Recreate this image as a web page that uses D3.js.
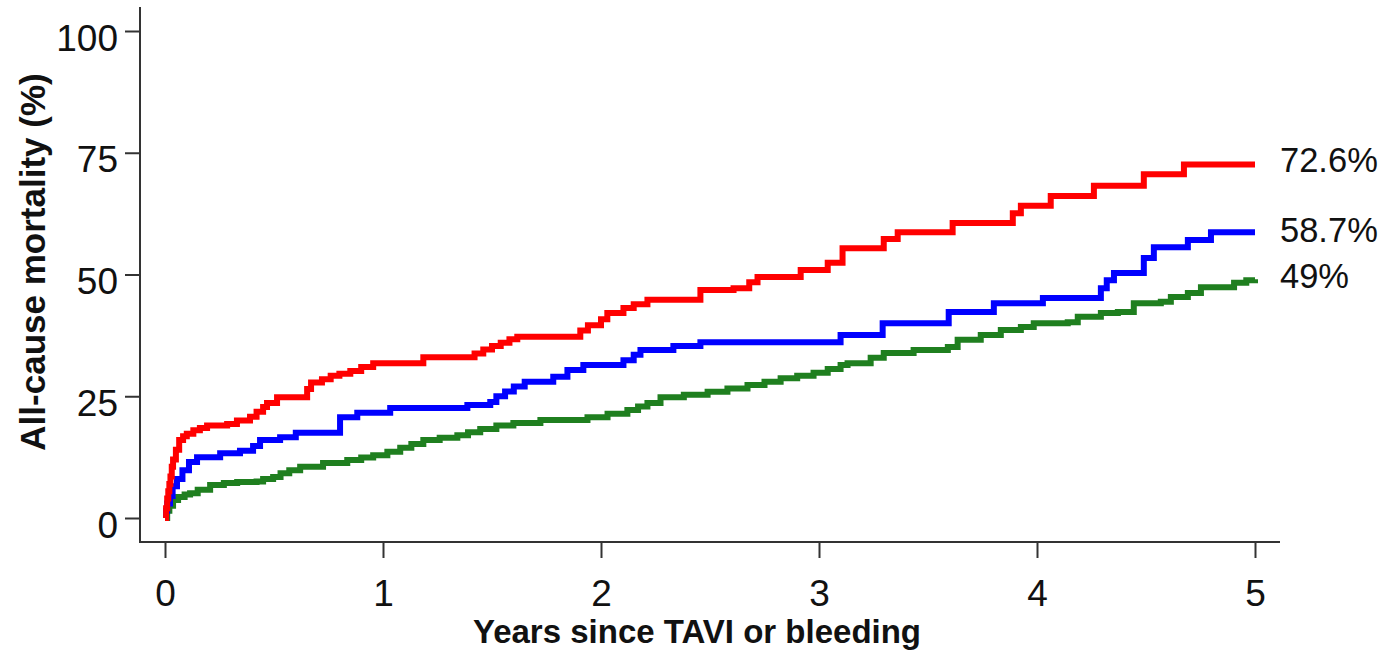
<!DOCTYPE html>
<html>
<head>
<meta charset="utf-8">
<script src="https://cdn.jsdelivr.net/npm/d3@7/dist/d3.min.js"></script>
<style>
  html, body { margin: 0; padding: 0; background: #fff; }
  svg { display: block; font-family: "Liberation Sans", Arial, sans-serif; }
</style>
</head>
<body>
<svg id="chart" width="1394" height="659"></svg>
<script>
// ---- Data (Kaplan-Meier step points: [years, mortality %]) ----
const xTicks = [0, 1, 2, 3, 4, 5];
const yTicks = [0, 25, 50, 75, 100];
const xTitle = "Years since TAVI or bleeding";
const yTitle = "All-cause mortality (%)";

const redSeries = [
  [0,0],[0.005,2],[0.01,4],[0.015,5.5],[0.02,7],[0.025,8.5],[0.031,10.5],[0.037,12],[0.05,14],
  [0.065,16],[0.083,16.8],[0.1,17.3],[0.13,18],[0.16,18.5],[0.193,19],[0.285,19.3],[0.33,20],
  [0.39,20.8],[0.42,21.8],[0.45,22.8],[0.468,23.6],[0.514,24.8],[0.652,26.5],[0.67,27.8],
  [0.72,28.5],[0.76,29.2],[0.8,29.6],[0.85,30.2],[0.9,31],[0.955,31.8],[1.185,33.0],[1.42,33.8],
  [1.46,34.6],[1.5,35.3],[1.54,36],[1.58,36.7],[1.616,37.2],[1.905,38.5],[1.94,39.6],[2.0,40.8],
  [2.029,42.1],[2.103,43.1],[2.15,43.9],[2.213,44.8],[2.456,46.8],[2.608,47.2],[2.68,48.4],
  [2.718,49.5],[2.916,50.9],[3.04,52.4],[3.108,55.4],[3.297,57.3],[3.361,58.7],[3.613,60.6],
  [3.889,62.6],[3.926,64.1],[4.063,66.1],[4.261,68.2],[4.49,70.6],[4.674,72.6],[5.0,72.6]
];
const blueSeries = [
  [0,0],[0.005,1.5],[0.01,3],[0.023,4.5],[0.035,6.5],[0.055,8],[0.08,9.8],[0.11,11.5],[0.147,12.5],
  [0.253,13.3],[0.344,13.8],[0.404,14.8],[0.436,16.0],[0.528,16.6],[0.6,17.5],[0.803,20.7],
  [0.882,21.6],[1.033,22.6],[1.387,23.2],[1.492,23.8],[1.52,25.0],[1.56,26.0],[1.6,27.0],
  [1.65,28.0],[1.781,29.0],[1.846,30.4],[1.919,31.4],[2.103,32.4],[2.15,33.5],[2.181,34.5],
  [2.332,35.3],[2.456,36.1],[3.099,37.6],[3.292,40.0],[3.595,42.3],[3.802,44.1],[4.027,45.2],
  [4.293,47.2],[4.32,48.8],[4.353,50.3],[4.49,53.4],[4.536,55.6],[4.692,57.1],[4.798,58.7],[5.0,58.7]
];
const greenSeries = [
  [0,0],[0.01,1.5],[0.02,2.5],[0.037,3.7],[0.06,4.3],[0.09,4.8],[0.115,5.1],[0.15,5.8],[0.207,6.8],
  [0.27,7.2],[0.331,7.4],[0.42,7.5],[0.45,8.0],[0.496,8.4],[0.53,9.2],[0.57,9.8],[0.62,10.5],
  [0.725,11.3],[0.836,11.9],[0.9,12.4],[0.955,12.9],[1.02,13.6],[1.079,14.4],[1.13,15.2],
  [1.185,16.0],[1.26,16.5],[1.341,17.0],[1.39,17.6],[1.446,18.3],[1.52,19.0],[1.598,19.5],
  [1.722,20.1],[1.938,20.7],[2.03,21.4],[2.121,22.2],[2.17,22.9],[2.213,23.6],[2.273,24.8],
  [2.38,25.3],[2.489,25.9],[2.58,26.6],[2.672,27.3],[2.75,28.0],[2.824,28.7],[2.9,29.2],
  [2.975,29.8],[3.04,30.6],[3.099,31.4],[3.131,31.8],[3.237,32.9],[3.297,33.9],[3.434,34.5],
  [3.591,35.1],[3.636,36.6],[3.742,37.6],[3.834,38.6],[3.926,39.2],[3.985,40.0],[4.141,40.2],
  [4.187,41.3],[4.293,42.1],[4.371,42.3],[4.444,44.1],[4.568,44.4],[4.614,45.4],[4.692,46.2],
  [4.752,47.4],[4.904,48.3],[4.96,48.8],[5.0,49.0]
];
const seriesNames = ["red", "blue", "green"];
const endLabels = ["72.6%", "58.7%", "49%"];

// ---- Drawing ----
const series = [
  { name: seriesNames[0], data: redSeries,   color: "#ff0000", label: endLabels[0], labelY: 172 },
  { name: seriesNames[1], data: blueSeries,  color: "#0000ff", label: endLabels[1], labelY: 242 },
  { name: seriesNames[2], data: greenSeries, color: "#1f7f1f", label: endLabels[2], labelY: 288 }
];

const svg = d3.select("#chart");
const x = d3.scaleLinear().domain([0, 5]).range([165, 1255]);
const y = d3.scaleLinear().domain([0, 100]).range([518, 31]);
const axisColor = "#333";
const textColor = "#111";

// Y axis
const yAxisX = 140;
svg.append("line").attr("x1", yAxisX).attr("x2", yAxisX).attr("y1", 7).attr("y2", 543)
  .attr("stroke", axisColor).attr("stroke-width", 2);
const yAxis = d3.axisLeft(y).tickValues(yTicks).tickSize(15).tickPadding(7).tickFormat(d3.format("d"));
const gy = svg.append("g").attr("transform", `translate(${yAxisX},0)`).call(yAxis);
gy.select(".domain").remove();
gy.selectAll(".tick line").attr("stroke", axisColor).attr("stroke-width", 2);
gy.selectAll(".tick text").attr("fill", textColor).attr("font-size", 37)
  .attr("font-family", "Liberation Sans, Arial, sans-serif")
  .attr("dy", null).attr("y", 19).attr("x", -22);

// X axis
const xAxisY = 542;
svg.append("line").attr("x1", yAxisX - 1).attr("x2", 1280).attr("y1", xAxisY).attr("y2", xAxisY)
  .attr("stroke", axisColor).attr("stroke-width", 2);
const xAxis = d3.axisBottom(x).tickValues(xTicks).tickSize(16).tickFormat(d3.format("d"));
const gx = svg.append("g").attr("transform", `translate(0,${xAxisY})`).call(xAxis);
gx.select(".domain").remove();
gx.selectAll(".tick line").attr("stroke", axisColor).attr("stroke-width", 2);
gx.selectAll(".tick text").attr("fill", textColor).attr("font-size", 37)
  .attr("font-family", "Liberation Sans, Arial, sans-serif")
  .attr("dy", null).attr("y", 64);

// Titles
svg.append("text").attr("x", 697).attr("y", 643).attr("text-anchor", "middle")
  .attr("font-size", 33).attr("font-weight", "bold").attr("fill", textColor).text(xTitle);
svg.append("text").attr("transform", "translate(45,262) rotate(-90)").attr("text-anchor", "middle")
  .attr("font-size", 35).attr("font-weight", "bold").attr("fill", textColor).text(yTitle);

// Lines
const line = d3.line().x(d => x(d[0])).y(d => y(d[1])).curve(d3.curveStepAfter);
// draw green first, red last
series.slice().reverse().forEach(s => {
  svg.append("path").datum(s.data).attr("d", line)
    .attr("fill", "none").attr("stroke", s.color).attr("stroke-width", 6)
    .attr("stroke-linejoin", "miter").attr("stroke-linecap", "butt");
});

// End labels
series.forEach(s => {
  svg.append("text").attr("x", 1280).attr("y", s.labelY)
    .attr("font-size", 34.5).attr("fill", textColor).text(s.label);
});
</script>
</body>
</html>
